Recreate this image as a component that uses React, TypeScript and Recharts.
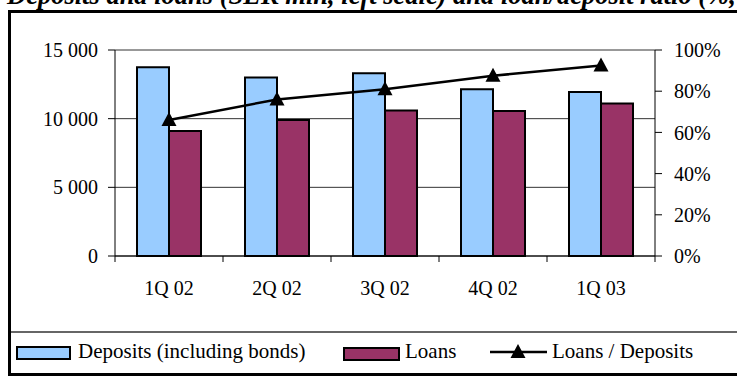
import { ComposedChart, Bar, Line, XAxis, YAxis, CartesianGrid } from 'recharts';

const quarters = ['1Q 02', '2Q 02', '3Q 02', '4Q 02', '1Q 03'];
const deposits = [13750, 13000, 13300, 12150, 11950];
const loans = [9100, 9900, 10600, 10550, 11100];
const loanRatio = [0.66, 0.76, 0.81, 0.875, 0.925];

const amountTicks = [0, 5000, 10000, 15000];
const ratioTicks = [0, 0.2, 0.4, 0.6, 0.8, 1];

const data = quarters.map((q, i) => ({
  quarter: q,
  deposits: deposits[i],
  loans: loans[i],
  ratio: loanRatio[i],
}));

const serif = '"Liberation Serif", "Times New Roman", serif';

const fmtAmount = (n: number) =>
  n < 1000 ? String(n) : `${Math.floor(n / 1000)} ${String(n % 1000).padStart(3, '0')}`;
const fmtPct = (v: number) => `${Math.round(v * 100)}%`;

const TriangleDot = (props: any) => {
  const { cx, cy, index } = props;
  if (cx == null || cy == null) return null;
  return (
    <path
      key={`tri-${index}`}
      d={`M${cx},${cy - 8} L${cx + 7.5},${cy + 6} L${cx - 7.5},${cy + 6} Z`}
      fill="#000"
    />
  );
};

// category label in the middle, tick marks on the band edges
const QuarterTick = (props: any) => {
  const { x, y, payload, index } = props;
  const half = payload.offset ?? 54;
  const lineTop = y - 19 - 6;
  return (
    <g>
      <line x1={x - half} x2={x - half} y1={lineTop} y2={lineTop + 6} stroke="#000" />
      {index === quarters.length - 1 && (
        <line x1={x + half} x2={x + half} y1={lineTop} y2={lineTop + 6} stroke="#000" />
      )}
      <text x={x} y={y} dy="0.71em" textAnchor="middle" fontSize={20} fontFamily={serif} fill="#000">
        {payload.value}
      </text>
    </g>
  );
};

const App = () => {
  return (
    <div style={{ position: 'absolute', left: 0, top: 0, width: 737, height: 376, overflow: 'hidden', background: '#fff' }}>
      <svg width={737} height={20} style={{ position: 'absolute', left: 0, top: 0 }}>
        <text x={7} y={4} fontSize={26.5} fontWeight="bold" fontStyle="italic" fontFamily={serif} fill="#000">
          Deposits and loans (SEK mln, left scale) and loan/deposit ratio (%, right scale)
        </text>
      </svg>
      <div
        style={{
          position: 'absolute',
          left: 8,
          top: 10,
          width: 780,
          height: 366,
          border: '3px solid #000',
          boxSizing: 'border-box',
        }}
      />
      <div style={{ position: 'absolute', left: 11, top: 331, width: 780, height: 2, background: '#666' }} />

      <div style={{ position: 'absolute', left: 0, top: 0 }}>
        <ComposedChart
          width={737}
          height={376}
          data={data}
          margin={{ top: 50, right: 0, bottom: 90, left: 0 }}
          barGap={0}
        >
          <CartesianGrid yAxisId="left" vertical={false} stroke="#333" />
          <XAxis
            dataKey="quarter"
            height={30}
            axisLine={{ stroke: '#000' }}
            tickLine={false}
            tickSize={6}
            tickMargin={19}
            tick={<QuarterTick />}
            interval={0}
          />
          <YAxis
            yAxisId="left"
            width={115}
            domain={[0, 15000]}
            ticks={amountTicks}
            tickFormatter={fmtAmount}
            axisLine={{ stroke: '#000' }}
            tickLine={{ stroke: '#000' }}
            tickSize={7}
            tickMargin={10}
            tick={{ fill: '#000', fontSize: 20, fontFamily: serif }}
          />
          <YAxis
            yAxisId="right"
            orientation="right"
            width={82}
            domain={[0, 1]}
            ticks={ratioTicks}
            tickFormatter={fmtPct}
            axisLine={{ stroke: '#000' }}
            tickLine={{ stroke: '#000' }}
            tickSize={7}
            tickMargin={12}
            tick={{ fill: '#000', fontSize: 20, fontFamily: serif, textAnchor: 'start' }}
          />
          <Bar yAxisId="left" dataKey="deposits" fill="#99CCFF" stroke="#000" strokeWidth={2} barSize={32} isAnimationActive={false} />
          <Bar yAxisId="left" dataKey="loans" fill="#993366" stroke="#000" strokeWidth={2} barSize={32} isAnimationActive={false} />
          <Line
            yAxisId="right"
            dataKey="ratio"
            stroke="#000"
            strokeWidth={2.5}
            dot={<TriangleDot />}
            activeDot={false}
            isAnimationActive={false}
          />
        </ComposedChart>
      </div>

      <svg width={737} height={40} style={{ position: 'absolute', left: 0, top: 335 }}>
        <g fontFamily={serif} fontSize={21} fill="#000">
          <rect x={17} y={12} width={53} height={12} fill="#99CCFF" stroke="#000" strokeWidth={2} />
          <text x={78} y={23}>Deposits (including bonds)</text>
          <rect x={344} y={13} width={55} height={12} fill="#993366" stroke="#000" strokeWidth={2} />
          <text x={405} y={23}>Loans</text>
          <line x1={490} x2={547} y1={17} y2={17} stroke="#000" strokeWidth={2.5} />
          <path d="M518,9 L525.5,23 L510.5,23 Z" fill="#000" />
          <text x={552} y={23}>Loans / Deposits</text>
        </g>
      </svg>
    </div>
  );
};

export default App;
